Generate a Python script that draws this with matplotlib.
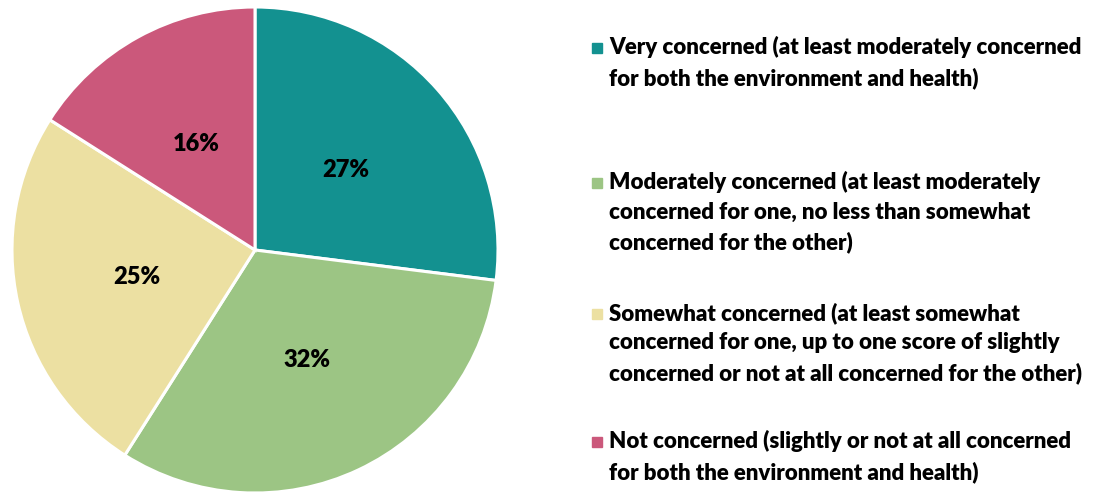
import matplotlib
matplotlib.use('Agg')
import matplotlib.pyplot as plt
from matplotlib.patches import Rectangle

plt.rcParams['font.family'] = ['Lato', 'DejaVu Sans']

shares = [27, 32, 25, 16]
labels = [
    "Very concerned (at least moderately concerned\nfor both the environment and health)",
    "Moderately concerned (at least moderately\nconcerned for one, no less than somewhat\nconcerned for the other)",
    "Somewhat concerned (at least somewhat\nconcerned for one, up to one score of slightly\nconcerned or not at all concerned for the other)",
    "Not concerned (slightly or not at all concerned\nfor both the environment and health)",
]
colors = ['#139190', '#9cc584', '#ece0a2', '#cb587b']
# vertical position (pixels from top) of each legend entry's first line
legend_top = [48, 183, 314, 442]

W, H = 1094, 496
fig = plt.figure(figsize=(W / 100, H / 100), dpi=100)

ax = fig.add_axes([12 / W, (H - 493) / H, 486 / W, 486 / H])
wedges, texts, autotexts = ax.pie(
    shares, colors=colors, startangle=90, counterclock=False,
    autopct=lambda p: f"{p:.0f}%", pctdistance=0.5,
    wedgeprops=dict(edgecolor='white', linewidth=2.2),
    textprops=dict(fontsize=17, fontweight='heavy', color='black'))
ax.set_xlim(-1, 1)
ax.set_ylim(-1, 1)
ax.set_aspect('equal')

for lab, col, ytop in zip(labels, colors, legend_top):
    fy = 1 - ytop / H
    fig.patches.append(Rectangle((592 / W, fy - 5 / H), 10 / W, 10 / H,
                                 transform=fig.transFigure, color=col))
    fig.text(609 / W, fy + 12 / H, lab, fontsize=16.0, fontweight='heavy',
             va='top', ha='left', linespacing=1.5,
             transform=fig.transFigure)

fig.savefig('out.png', dpi=100)
